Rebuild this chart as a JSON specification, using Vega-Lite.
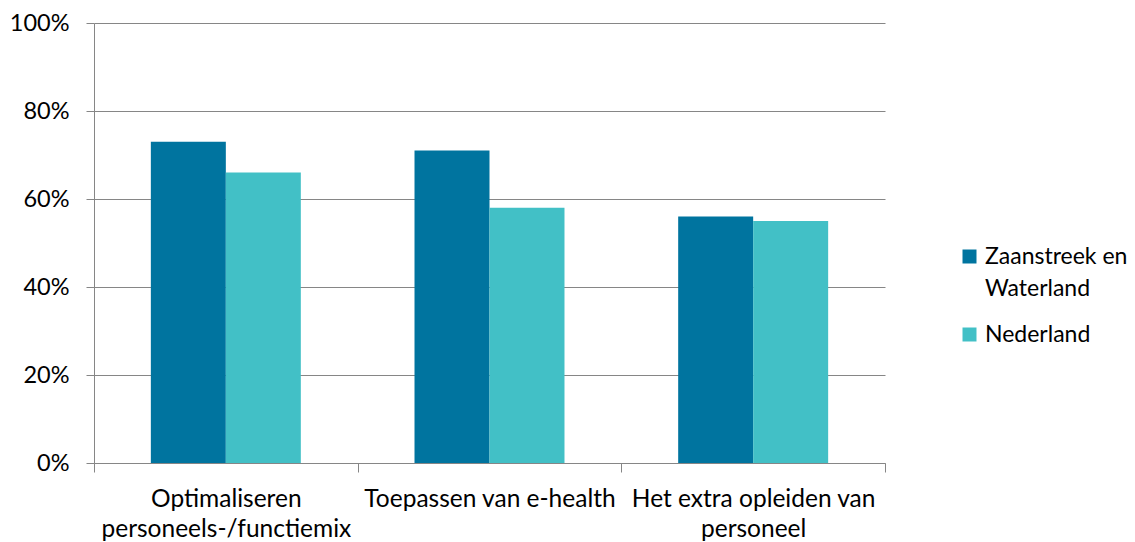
{
  "$schema": "https://vega.github.io/schema/vega-lite/v6.json",
  "width": 791,
  "height": 440,
  "autosize": {"type": "none"},
  "padding": {"left": 94, "top": 23, "right": 250, "bottom": 79},
  "background": "white",
  "data": {
    "values": [
      {"maatregel": "Optimaliseren|personeels-/functiemix", "regio": "Zaanstreek en Waterland", "aandeel": 0.73},
      {"maatregel": "Optimaliseren|personeels-/functiemix", "regio": "Nederland", "aandeel": 0.66},
      {"maatregel": "Toepassen van e-health", "regio": "Zaanstreek en Waterland", "aandeel": 0.71},
      {"maatregel": "Toepassen van e-health", "regio": "Nederland", "aandeel": 0.58},
      {"maatregel": "Het extra opleiden van|personeel", "regio": "Zaanstreek en Waterland", "aandeel": 0.56},
      {"maatregel": "Het extra opleiden van|personeel", "regio": "Nederland", "aandeel": 0.55}
    ]
  },
  "config": {
    "view": {"stroke": null},
    "font": "Lato"
  },
  "mark": {"type": "bar"},
  "encoding": {
    "x": {
      "field": "maatregel",
      "type": "nominal",
      "sort": null,
      "scale": {"paddingInner": 0, "paddingOuter": 0},
      "axis": {
        "title": null,
        "labelAngle": 0,
        "labelFont": "Lato",
        "labelFontSize": 24.5,
        "labelColor": "#000000",
        "labelLimit": 400,
        "labelExpr": "datum.value ? split(datum.value, '|') : ''",
        "labelLineHeight": 30,
        "labelBaseline": "top",
        "tickBand": "extent",
        "tickSize": 9,
        "tickColor": "#868686",
        "domainColor": "#868686",
        "labelPadding": 15,
        "grid": false
      }
    },
    "xOffset": {
      "field": "regio",
      "type": "nominal",
      "sort": ["Zaanstreek en Waterland", "Nederland"],
      "scale": {"paddingInner": 0, "paddingOuter": 0.758}
    },
    "y": {
      "field": "aandeel",
      "type": "quantitative",
      "scale": {"domain": [0, 1], "nice": false},
      "axis": {
        "title": null,
        "format": ".0%",
        "values": [0, 0.2, 0.4, 0.6, 0.8, 1],
        "labelFont": "Lato",
        "labelFontSize": 23.5,
        "labelColor": "#000000",
        "tickSize": 8,
        "tickColor": "#868686",
        "domainColor": "#868686",
        "gridColor": "#868686",
        "gridOpacity": 1,
        "labelPadding": 17
      }
    },
    "color": {
      "field": "regio",
      "type": "nominal",
      "sort": ["Zaanstreek en Waterland", "Nederland"],
      "scale": {"domain": ["Zaanstreek en Waterland", "Nederland"], "range": ["#00749F", "#42C0C6"]},
      "legend": {
        "title": null,
        "orient": "none",
        "legendX": 864,
        "legendY": 222,
        "symbolType": "square",
        "symbolSize": 196,
        "symbolStrokeWidth": 0,
        "symbolOpacity": 1,
        "labelFontSize": 23,
        "labelFont": "Lato",
        "labelColor": "#000000",
        "labelLimit": 300,
        "labelExpr": "datum.value == 'Zaanstreek en Waterland' ? ['Zaanstreek en', 'Waterland'] : datum.value",
        "rowPadding": 22,
        "labelOffset": 4,
        "encode": {
          "labels": {
            "update": {
              "lineHeight": {"value": 32}
            }
          }
        }
      }
    }
  }
}
